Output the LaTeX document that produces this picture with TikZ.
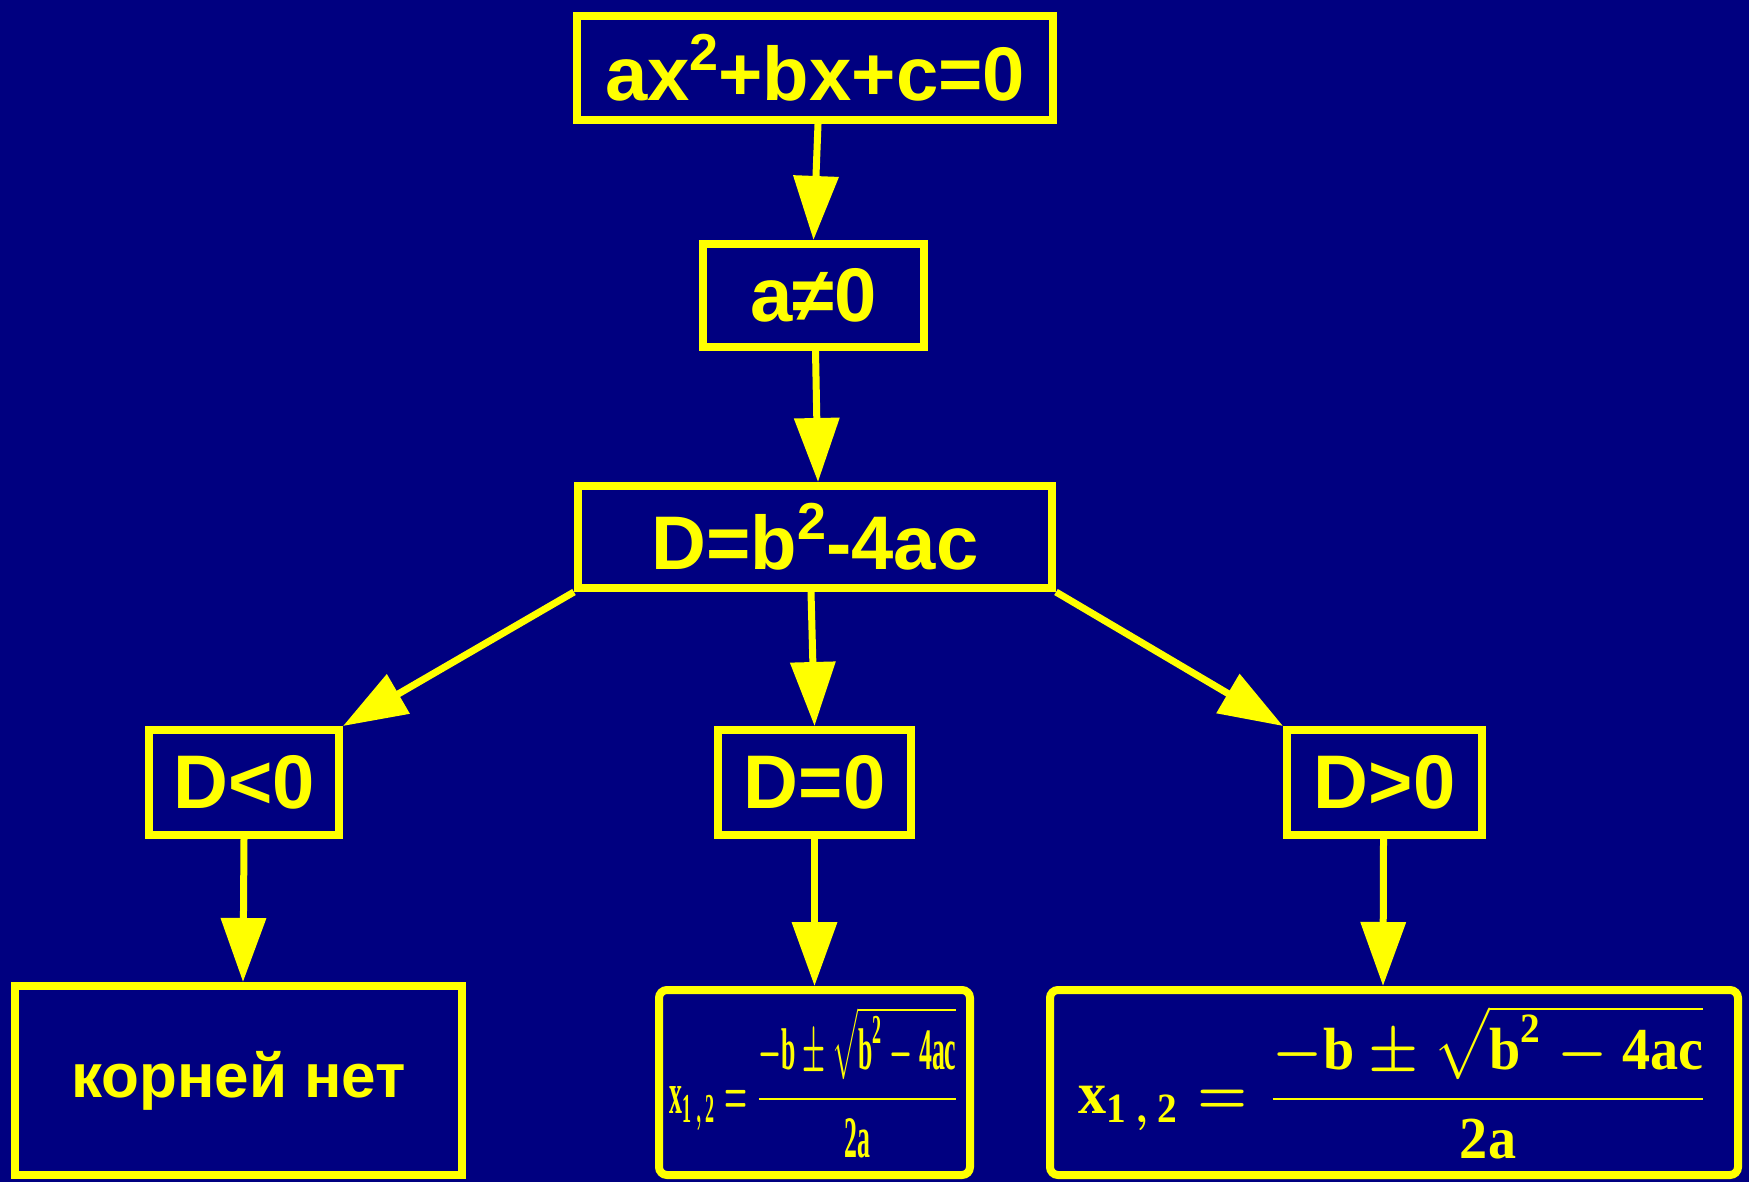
\documentclass[tikz,border=0pt]{standalone}
\usepackage{amsmath}
\usepackage[no-math]{fontspec}
\setmainfont{Liberation Sans}
\newfontfamily\fserif{Liberation Serif}
\usepackage{graphicx}
\usetikzlibrary{arrows.meta}
\definecolor{bg}{RGB}{0,0,128}
\definecolor{yel}{RGB}{255,255,0}
\newcommand\mysq{\raisebox{0.4em}{\fontsize{26}{30}\selectfont 2}}
\newcommand\tb[1]{\text{\fserif\bfseries #1}}
\newcommand\myformula{\normalsize\boldmath$\displaystyle \tb{x}_{\tb{1}\,,\,\tb{2}}=\frac{-\tb{b}\pm\sqrt{\tb{b}^{\tb{2}}-\tb{4ac}}}{\tb{2a}}$}
\begin{document}
\begin{tikzpicture}[x=0.5pt,y=-0.5pt,
  box/.style={draw=yel, line width=4pt, fill=bg, text=yel, inner sep=0pt,
    font=\bfseries\fontsize{38}{44}\selectfont},
  rbox/.style={box, rounded corners=4pt},
  conn/.style={draw=yel, line width=3.5pt, -{Triangle[length=32pt,width=22pt]}}]
\fill[bg] (0,0) rectangle (1749,1182);
\useasboundingbox (0,0) rectangle (1749,1182);
\node[box, minimum width=238pt, minimum height=52pt] (eq) at (815,68) {ax\mysq+bx+c=0};
\node[box, minimum width=110.5pt, minimum height=51.5pt] (ane) at (813.5,295.5) {a≠0};
\node[box, minimum width=237pt, minimum height=51pt] (disc) at (815,537) {D=b\mysq-4ac};
\node[box, minimum width=95pt, minimum height=52.5pt] (neg) at (244,782.5) {D<0};
\node[box, minimum width=96.5pt, minimum height=52.5pt] (zero) at (814.5,782.5) {D=0};
\node[box, minimum width=97.5pt, minimum height=52.5pt] (pos) at (1384.5,782.5) {D>0};
\node[box, minimum width=223.5pt, minimum height=94.5pt, font=\bfseries\fontsize{31}{36}\selectfont] (none) at (238.5,1080.5) {корней нет};
\node[rbox, minimum width=155.5pt, minimum height=92.5pt] (fmid) at (814.5,1082.5)
  {\resizebox*{145pt}{76pt}{\myformula}};
\node[rbox, minimum width=344pt, minimum height=92.5pt] (fright) at (1394,1082.5)
  {\resizebox*{316pt}{77pt}{\myformula}};
\draw[conn] ([xshift=1.5pt]eq.south) -- (ane.north);
\draw[conn] ([xshift=1pt]ane.south) -- ([xshift=1.5pt]disc.north);
\draw[conn] (disc.south west) -- (neg.north east);
\draw[conn] ([xshift=-2pt]disc.south) -- (zero.north);
\draw[conn] (disc.south east) -- (pos.north west);
\draw[conn] (neg.south) -- ([xshift=2.25pt]none.north);
\draw[conn] (zero.south) -- (fmid.north);
\draw[conn] ([xshift=-0.5pt]pos.south) -- ([xshift=-5.5pt]fright.north);
\end{tikzpicture}
\end{document}
